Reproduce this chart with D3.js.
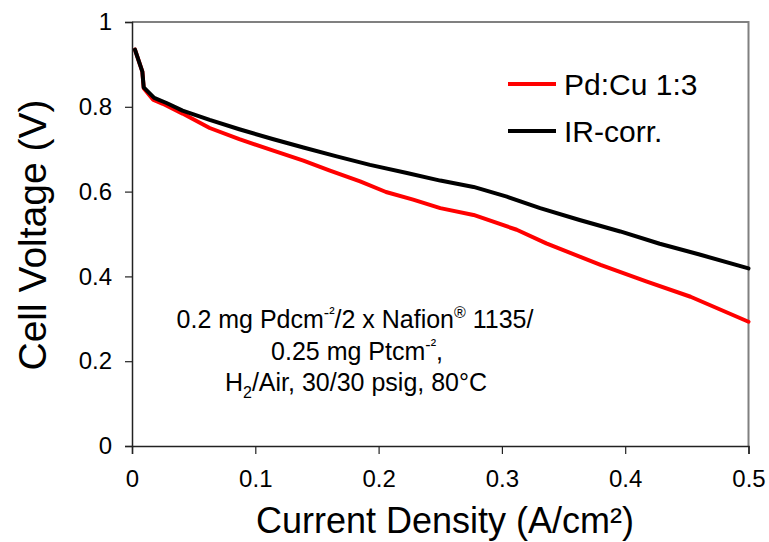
<!DOCTYPE html>
<html>
<head>
<meta charset="utf-8">
<script src="https://cdn.jsdelivr.net/npm/d3@7"></script>
<style>
  html, body { margin: 0; padding: 0; background: #fff; }
  svg { display: block; font-family: "Liberation Sans", Arial, sans-serif; }
</style>
</head>
<body>
<svg id="chart" width="769" height="542"></svg>
<script>
// Polarization curve: measured cell voltage and IR-corrected voltage
const pdcuCurrent = [0.0024, 0.0084, 0.0095, 0.017, 0.025, 0.041, 0.063, 0.087, 0.114, 0.139, 0.160, 0.185, 0.206, 0.228, 0.250, 0.277, 0.312, 0.336, 0.380, 0.417, 0.453, 0.500];
const pdcuVoltage = [0.935, 0.883, 0.844, 0.817, 0.807, 0.784, 0.750, 0.724, 0.697, 0.673, 0.650, 0.624, 0.599, 0.581, 0.561, 0.545, 0.510, 0.478, 0.427, 0.388, 0.352, 0.293];

const irCurrent = [0.0024, 0.0084, 0.0095, 0.018, 0.028, 0.041, 0.063, 0.087, 0.114, 0.139, 0.166, 0.193, 0.223, 0.250, 0.277, 0.304, 0.331, 0.363, 0.396, 0.428, 0.461, 0.500];
const irVoltage = [0.935, 0.883, 0.846, 0.821, 0.809, 0.791, 0.769, 0.747, 0.724, 0.704, 0.683, 0.663, 0.644, 0.626, 0.611, 0.588, 0.561, 0.533, 0.506, 0.477, 0.451, 0.419];

const xTickValues = [0, 0.1, 0.2, 0.3, 0.4, 0.5];
const yTickValues = [0, 0.2, 0.4, 0.6, 0.8, 1];

const seriesNames = ["Pd:Cu 1:3", "IR-corr."];
const seriesColors = ["#ff0000", "#000000"];

const svg = d3.select("#chart");
const plot = { left: 132, right: 748.5, top: 22, bottom: 446 };

const x = d3.scaleLinear().domain([0, 0.5]).range([plot.left, plot.right]);
const y = d3.scaleLinear().domain([0, 1]).range([plot.bottom, plot.top]);

// frame: grey top and right edges
svg.append("path")
  .attr("d", `M${plot.left},${plot.top}H${plot.right}V${plot.bottom}`)
  .attr("fill", "none").attr("stroke", "#808080").attr("stroke-width", 2);

// axes
const fmt = d => String(+d.toFixed(1));
const xAxis = svg.append("g")
  .attr("transform", `translate(0,${plot.bottom})`)
  .call(d3.axisBottom(x).tickValues(xTickValues).tickSize(8).tickPadding(16).tickFormat(fmt));
const yAxis = svg.append("g")
  .attr("transform", `translate(${plot.left},0)`)
  .call(d3.axisLeft(y).tickValues(yTickValues).tickSize(7).tickPadding(13).tickFormat(fmt));

[xAxis, yAxis].forEach(g => {
  g.select(".domain").attr("stroke", "#222").attr("stroke-width", 1.5);
  g.selectAll(".tick line").attr("stroke", "#222").attr("stroke-width", 1.2);
  g.selectAll(".tick text").attr("fill", "#000").style("font-size", "24px")
    .style("font-family", "'Liberation Sans', Arial, sans-serif");
});

// curves
const line = d3.line().x(d => x(d[0])).y(d => y(d[1]));
const seriesData = [
  d3.zip(pdcuCurrent, pdcuVoltage),
  d3.zip(irCurrent, irVoltage)
];
seriesData.forEach((pts, i) => {
  svg.append("path")
    .datum(pts)
    .attr("d", line)
    .attr("fill", "none")
    .attr("stroke", seriesColors[i])
    .attr("stroke-width", 4)
    .attr("stroke-linejoin", "round")
    .attr("stroke-linecap", "round");
});

// legend
const legend = svg.append("g");
seriesNames.forEach((name, i) => {
  const ly = 84 + i * 47;
  legend.append("line")
    .attr("x1", 508).attr("x2", 556).attr("y1", ly).attr("y2", ly)
    .attr("stroke", seriesColors[i]).attr("stroke-width", 4);
  legend.append("text")
    .attr("x", 564).attr("y", ly).attr("dy", "0.36em")
    .style("font-size", "30px").text(name);
});

// axis titles
svg.append("text")
  .attr("x", 445).attr("y", 533)
  .attr("text-anchor", "middle").style("font-size", "36px")
  .text("Current Density (A/cm²)");
svg.append("text")
  .attr("transform", "translate(46,235) rotate(-90)")
  .attr("text-anchor", "middle").style("font-size", "39px")
  .text("Cell Voltage (V)");

// test conditions note
const note = svg.append("text")
  .attr("text-anchor", "middle").style("font-size", "25px");
const sup = 16;
const l1 = note.append("tspan").attr("x", 355).attr("y", 328);
l1.append("tspan").text("0.2 mg Pdcm");
l1.append("tspan").attr("dy", -10).style("font-size", sup + "px").text("-²");
l1.append("tspan").attr("dy", 10).text("/2 x Nafion");
l1.append("tspan").attr("dy", -10).style("font-size", sup + "px").text("®");
l1.append("tspan").attr("dy", 10).text(" 1135/");
const l2 = note.append("tspan").attr("x", 357).attr("y", 360);
l2.append("tspan").text("0.25 mg Ptcm");
l2.append("tspan").attr("dy", -10).style("font-size", sup + "px").text("-²");
l2.append("tspan").attr("dy", 10).text(",");
const l3 = note.append("tspan").attr("x", 356).attr("y", 391);
l3.append("tspan").text("H");
l3.append("tspan").attr("dy", 7).style("font-size", sup + "px").text("2");
l3.append("tspan").attr("dy", -7).text("/Air, 30/30 psig, 80°C");
</script>
</body>
</html>
